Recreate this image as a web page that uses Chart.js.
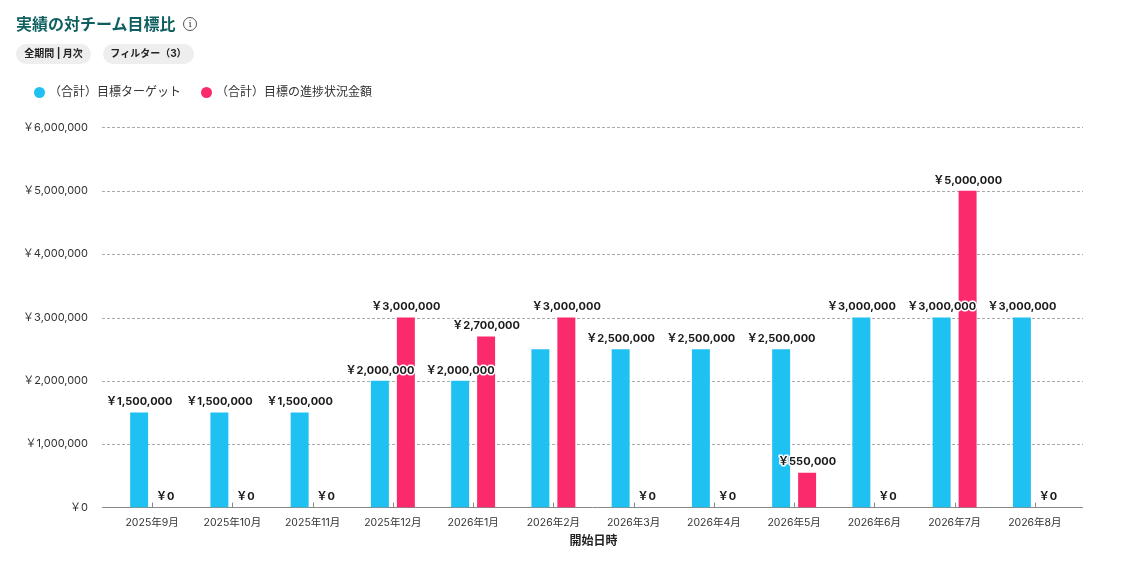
<!DOCTYPE html>
<html lang="ja">
<head>
<meta charset="utf-8">
<title>実績の対チーム目標比</title>
<script src="https://cdn.jsdelivr.net/npm/chart.js@4/dist/chart.umd.min.js"></script>
<style>
    html, body { margin: 0; padding: 0; background: #fff; }
    body { width: 1125px; height: 564px; overflow: hidden; position: relative; font-family: Inter, "Noto Sans CJK JP", sans-serif; color: #222; }
    #chart { position: absolute; left: 0; top: 0; }
    h1 { position: absolute; left: 16px; top: 13px; margin: 0; font-size: 16px; line-height: 22px; font-weight: 700; color: #0f5f60; }
    .info { position: absolute; left: 183px; top: 17px; width: 12px; height: 12px; border: 1px solid #555; border-radius: 50%; font: 10px/12px "DejaVu Serif", serif; color: #444; text-align: center; }
    .pill { position: absolute; top: 44px; height: 20px; line-height: 19px; border-radius: 10px; background: #eeeeee; font-size: 10px; font-weight: 700; text-align: center; color: #222; }
    #legend { position: absolute; left: 34px; top: 83px; display: flex; font-size: 12px; line-height: 18px; color: #333; }
    #legend span.item { display: flex; align-items: center; margin-right: 20px; }
    #legend i { width: 11px; height: 11px; border-radius: 50%; margin-right: 4px; }
</style>
</head>
<body>
<canvas id="chart" width="1125" height="564"></canvas>
<h1>実績の対チーム目標比</h1>
<div class="info">i</div>
<div class="pill" style="left:16px;width:75px">全期間 | 月次</div>
<div class="pill" style="left:103px;width:91px">フィルター（3）</div>
<div id="legend"></div>
<script>
// データ
const months = ['2025年9月', '2025年10月', '2025年11月', '2025年12月', '2026年1月', '2026年2月', '2026年3月', '2026年4月', '2026年5月', '2026年6月', '2026年7月', '2026年8月'];
const targetValues = [1500000, 1500000, 1500000, 2000000, 2000000, 2500000, 2500000, 2500000, 2500000, 3000000, 3000000, 3000000];
const progressValues = [0, 0, 0, 3000000, 2700000, 3000000, 0, 0, 550000, 0, 5000000, 0];
const targetLabel = '（合計）目標ターゲット';
const progressLabel = '（合計）目標の進捗状況金額';
const axisTitle = '開始日時';
// 隣のラベルと重なるので金額を出さない月（ターゲット側）
const hiddenTargetMonths = ['2026年2月'];

const fontFamily = 'Inter, "Noto Sans CJK JP", sans-serif';
const targetColor = '#1fc1f3';
const progressColor = '#fb2a6c';
const yen = v => '￥' + v.toLocaleString('en-US');

// 横線と目盛りはプロット領域より左右に少しはみ出す
const guideLines = {
    id: 'guideLines',
    beforeDatasetsDraw(chart) {
        const { ctx, scales: { x, y } } = chart;
        const left = x.left - 10;
        const right = x.right + 8;
        ctx.save();
        ctx.lineWidth = 1;
        ctx.strokeStyle = '#aaaaaa';
        ctx.setLineDash([3, 2]);
        y.ticks.forEach((t, i) => {
            if (t.value === 0) return;
            const py = Math.floor(y.getPixelForTick(i) + 0.55) + 0.5;
            ctx.beginPath();
            ctx.moveTo(left, py);
            ctx.lineTo(right, py);
            ctx.stroke();
        });
        ctx.setLineDash([]);
        ctx.strokeStyle = '#888888';
        const base = Math.floor(y.getPixelForValue(0)) + 0.5;
        ctx.beginPath();
        ctx.moveTo(left, base);
        ctx.lineTo(right, base);
        ctx.stroke();
        x.ticks.forEach((t, i) => {
            const px = Math.round(x.getPixelForTick(i)) + 0.5;
            ctx.beginPath();
            ctx.moveTo(px, base);
            ctx.lineTo(px, base - 5);
            ctx.stroke();
        });
        ctx.restore();
    }
};

// 棒の上の金額ラベル（白フチ付き）
const barValues = {
    id: 'barValues',
    afterDatasetsDraw(chart) {
        const { ctx } = chart;
        ctx.save();
        ctx.font = '700 11px ' + fontFamily;
        ctx.textAlign = 'center';
        ctx.textBaseline = 'middle';
        ctx.lineJoin = 'round';
        ctx.lineWidth = 3;
        ctx.strokeStyle = '#ffffff';
        ctx.fillStyle = '#1a1a1a';
        chart.data.datasets.forEach((ds, di) => {
            chart.getDatasetMeta(di).data.forEach((bar, i) => {
                if (di === 0 && hiddenTargetMonths.includes(months[i])) return;
                const text = yen(ds.data[i]);
                ctx.strokeText(text, bar.x, bar.y - 10.5);
                ctx.fillText(text, bar.x, bar.y - 10.5);
            });
        });
        ctx.restore();
    }
};

const barOptions = { barPercentage: 0.692, categoryPercentage: 0.647 };

const chart = new Chart(document.getElementById('chart'), {
    type: 'bar',
    data: {
        labels: months,
        datasets: [
            { label: targetLabel, data: targetValues, backgroundColor: targetColor, ...barOptions },
            { label: progressLabel, data: progressValues, backgroundColor: c => c.raw === 0 ? 'transparent' : progressColor, ...barOptions }
        ]
    },
    options: {
        responsive: false,
        animation: false,
        layout: { padding: { top: 127.4, right: 50, bottom: 0, left: 0 } },
        plugins: { legend: { display: false }, tooltip: { enabled: false } },
        scales: {
            x: {
                grid: { display: false },
                border: { display: false },
                afterFit(axis) { axis.height = 56.5; },
                ticks: { color: '#333333', font: { family: fontFamily, size: 10.5 }, padding: 1, maxRotation: 0, autoSkip: false },
                title: { display: true, text: axisTitle, color: '#222222', font: { family: fontFamily, size: 12, weight: '700' }, padding: { top: 6, bottom: 15 } }
            },
            y: {
                min: 0,
                max: 6000000,
                grid: { display: false },
                border: { display: false },
                afterFit(axis) { axis.width = 112; },
                ticks: { stepSize: 1000000, color: '#333333', font: { family: fontFamily, size: 11 }, padding: 16, callback: v => yen(v) }
            }
        }
    },
    plugins: [guideLines, barValues]
});

// 凡例
const legend = document.getElementById('legend');
[[targetLabel, targetColor], [progressLabel, progressColor]].forEach(([label, color]) => {
    const item = document.createElement('span');
    item.className = 'item';
    item.innerHTML = `<i style="background:${color}"></i><span>${label}</span>`;
    legend.appendChild(item);
});
</script>
</body>
</html>
